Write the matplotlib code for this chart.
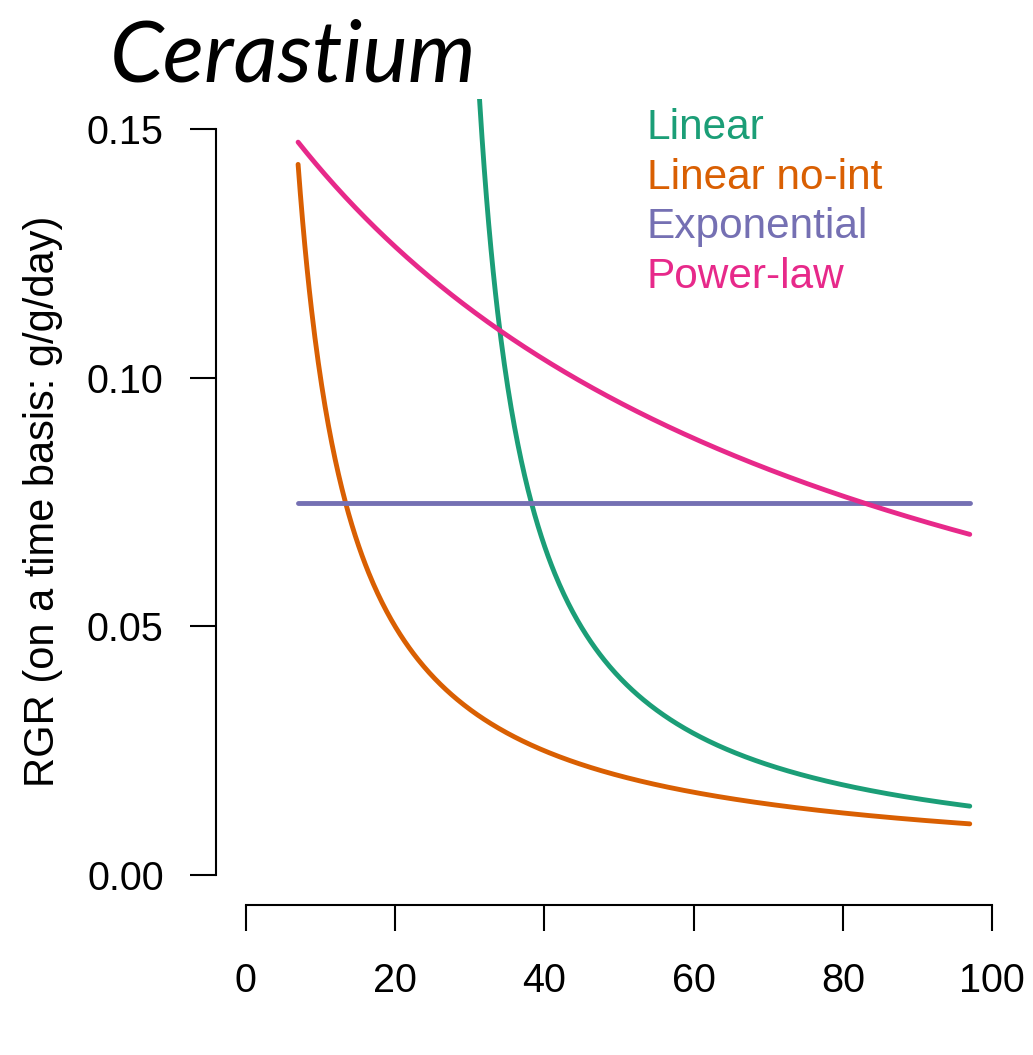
import numpy as np
import matplotlib
matplotlib.use("Agg")
import matplotlib.pyplot as plt

# Growth-model fits for Cerastium, expressed as relative growth rate over time
day_range = (7, 97)                 # days covered by the fitted curves
linear_offset = 24.9                # linear fit M = b0 + b1*t, with -b0/b1 in days
exp_rate = 0.0748                   # exponential fit: constant RGR
power_a, power_b = 6.18, 0.0868     # power-law fit: RGR = 1 / (a + b*t)

model_names = ["Linear", "Linear no-int", "Exponential", "Power-law"]
model_colors = ["#1B9E77", "#D95F02", "#7570B3", "#E7298A"]

x_ticks = [0, 20, 40, 60, 80, 100]
y_ticks = [0.00, 0.05, 0.10, 0.15]
y_tick_labels = ["0.00", "0.05", "0.10", "0.15"]

t = np.linspace(day_range[0], day_range[1], 600)
with np.errstate(divide="ignore", invalid="ignore"):
    rgr_linear = np.where(t > linear_offset, 1.0 / (t - linear_offset), np.nan)
rgr_linear_noint = 1.0 / t
rgr_exp = np.full_like(t, exp_rate)
rgr_power = 1.0 / (power_a + power_b * t)
curves = [rgr_linear, rgr_linear_noint, rgr_exp, rgr_power]

W, H = 1033, 1055
fig = plt.figure(figsize=(W / 100, H / 100), dpi=100)
ax = fig.add_axes([216 / W, (H - 905) / H, (1022 - 216) / W, (905 - 99) / H])

for y, c in zip(curves, model_colors):
    ax.plot(t, y, color=c, lw=3.5, solid_capstyle="round")

ax.set_xlim(-4, 104)
ax.set_ylim(-0.006, 0.156)

for s in ["top", "right"]:
    ax.spines[s].set_visible(False)
ax.spines["left"].set_bounds(0, 0.15)
ax.spines["bottom"].set_bounds(0, 100)
for s in ["left", "bottom"]:
    ax.spines[s].set_linewidth(1.5)

label_font = "Liberation Sans"
ax.set_xticks(x_ticks)
ax.set_xticklabels([str(v) for v in x_ticks], fontsize=28.5, family=label_font)
ax.set_yticks(y_ticks)
ax.set_yticklabels(y_tick_labels, fontsize=28.5, family=label_font)
ax.tick_params(axis="both", direction="out", length=18.7, width=1.5)
ax.tick_params(axis="y", pad=19)
ax.tick_params(axis="x", pad=22)

fig.text(43 / W, 1 - 501 / H, "RGR (on a time basis: g/g/day)", rotation=90,
         ha="center", va="center", fontsize=30, family=label_font)

fig.text(110 / W, 1 - 82 / H, "Cerastium", fontsize=62, family="Lato",
         style="italic", ha="left", va="baseline")

legend_baselines = [139, 189, 238, 288]
for name, c, yb in zip(model_names, model_colors, legend_baselines):
    fig.text(647 / W, 1 - yb / H, name, color=c, fontsize=30.5,
             family=label_font, ha="left", va="baseline")

fig.savefig("out.png", dpi=100)
